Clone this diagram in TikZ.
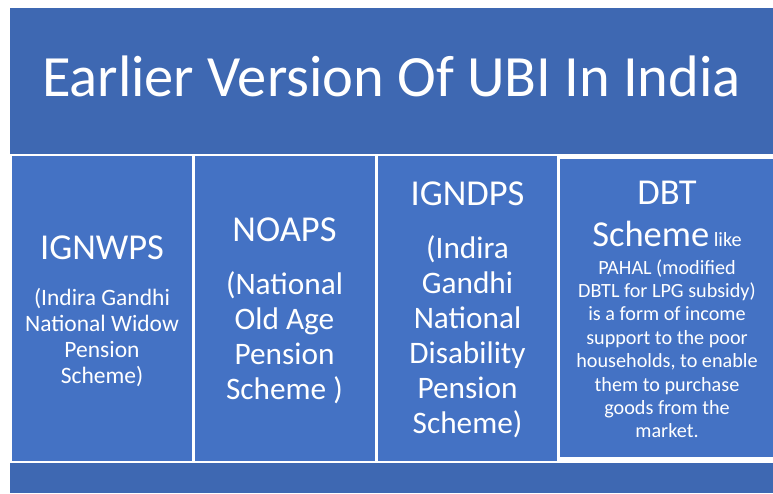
\documentclass[tikz,border=0pt]{standalone}
\usepackage{fontspec}
\setmainfont{Carlito}
\definecolor{band}{HTML}{3E68B2}
\definecolor{boxblue}{HTML}{4472C4}
\begin{document}
\begin{tikzpicture}[x=1pt,y=-1pt,
  panel/.style={fill=boxblue,draw=white,line width=1.5pt},
  txt/.style={anchor=base,inner sep=0pt,text=white},
  head/.style={txt,font=\fontsize{36.5}{40}\selectfont},
  bodyA/.style={txt,font=\fontsize{23.5}{26}\selectfont},
  bodyB/.style={txt,font=\fontsize{31.3}{35}\selectfont},
  bodyC/.style={txt,font=\fontsize{20.2}{23}\selectfont}]
\useasboundingbox[fill=white] (0,0) rectangle (773,493);
% bands
\fill[band] (10,8) rectangle (773,154);
\fill[band] (10,463) rectangle (773,493);
% panels
\draw[panel] (11.5,155.5) rectangle (192.5,461.5);
\draw[panel] (194,155.5) rectangle (375.5,461.5);
\draw[panel] (377,155.5) rectangle (557.5,461.5);
\draw[panel] (559.5,158.5) rectangle (776,458);
% title
\node[txt,font=\fontsize{58.5}{62}\selectfont] (title) at (391.5,96) {Earlier Version Of UBI In India};
% box 1
\node[head] (h1) at (102,259.3) {IGNWPS};
\foreach \t [count=\i] in {{(Indira Gandhi},{National Widow},{Pension},{Scheme)}}
  \node[bodyA] (a\i) at (102,305.5+26*\i-26) {\t};
% box 2
\node[head] (h2) at (284.5,241) {NOAPS};
\foreach \t [count=\i] in {{(National},{Old Age},{Pension},{Scheme )}}
  \node[bodyB] (b\i) at (284.5,294+35*\i-35) {\t};
% box 3
\node[head] (h3) at (467.5,205) {IGNDPS};
\foreach \t [count=\i] in {{(Indira},{Gandhi},{National},{Disability},{Pension},{Scheme)}}
  \node[bodyB] (c\i) at (467.5,258.3+35*\i-35) {\t};
% box 4
\node[head] (h4) at (667,204.3) {DBT};
\node[txt] (h4b) at (667,246) {\fontsize{36.5}{40}\selectfont Scheme\fontsize{20.2}{23}\selectfont\ like};
\foreach \t [count=\i] in {{PAHAL (modified},{DBTL for LPG subsidy)},{is a form of income},{support to the poor},{households, to enable},{them to purchase},{goods from the},{market.}}
  \node[bodyC] (d\i) at (667,274+23.4*\i-23.4) {\t};
\end{tikzpicture}
\end{document}
